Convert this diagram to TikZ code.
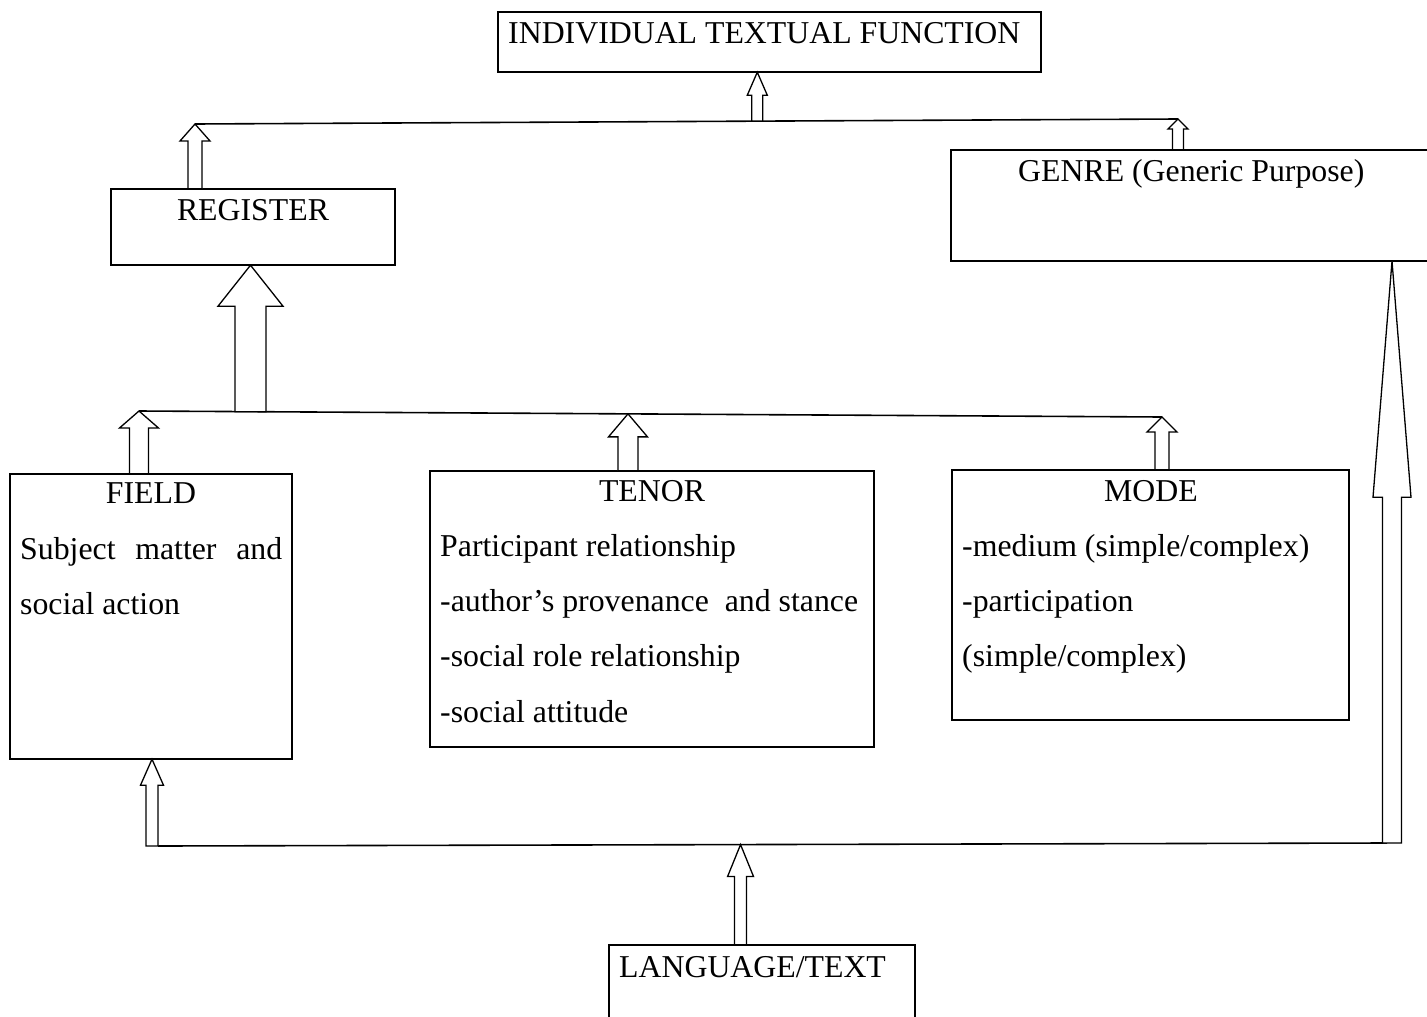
\documentclass[tikz,border=0pt]{standalone}
\usepackage{fontspec}
\setmainfont{Liberation Serif}
\usetikzlibrary{calc}
\tikzset{
  box/.style={draw, line width=1.6pt, rectangle, inner sep=0pt},
  txt/.style={inner sep=0pt, font=\fontsize{31.8}{38}\selectfont},
  blk/.style={draw, line width=1.3pt, fill=white, line join=miter},
  conn/.style={draw, line width=1.6pt}
}
% block arrow pointing up: #1 base point (its y used), #2 tip, #3 half shaft, #4 half head, #5 head length
\newcommand\blockup[5]{%
  \path[blk] let \p1=(#1), \p2=(#2) in
   (\x2-#3,\y1) -- (\x2-#3,\y2-#5) -- (\x2-#4,\y2-#5) -- (\p2) --
   (\x2+#4,\y2-#5) -- (\x2+#3,\y2-#5) -- (\x2+#3,\y1) -- cycle;}
\begin{document}
\begin{tikzpicture}[x=1pt,y=-1pt]
\useasboundingbox (0,0) rectangle (1427,1017);
% boxes
\path[box] (498,12) rectangle (1041,72);
\node[inner sep=0pt, minimum width=543pt, minimum height=60pt] (itf) at (769.5,42) {};
\path[box] (111,189) rectangle (395,265);
\node[inner sep=0pt, minimum width=284pt, minimum height=76pt] (reg) at (253,227) {};
\path[box] (951,150) rectangle (1445,261);
\node[inner sep=0pt, minimum width=494pt, minimum height=111pt] (genre) at (1198,205.5) {};
\path[box] (10,474) rectangle (292,759);
\node[inner sep=0pt, minimum width=282pt, minimum height=285pt] (field) at (151,616.5) {};
\path[box] (430,471) rectangle (874,747);
\node[inner sep=0pt, minimum width=444pt, minimum height=276pt] (tenor) at (652,609) {};
\path[box] (952,470) rectangle (1349,720);
\node[inner sep=0pt, minimum width=397pt, minimum height=250pt] (mode) at (1150.5,595) {};
\path[box] (609,945) rectangle (915,1040);
\node[inner sep=0pt, minimum width=306pt, minimum height=95pt] (lang) at (762,992.5) {};

% texts
\node[txt, anchor=base west] (titf) at (508,43) {INDIVIDUAL TEXTUAL FUNCTION};
\node[txt, anchor=base] (treg) at (253,220) {REGISTER};
\node[txt, anchor=base west] (tgen) at (1018,181) {GENRE (Generic Purpose)};
\node[txt, anchor=base] (tfield) at (151,503) {FIELD};
\node[txt, anchor=base west] (tf1) at (20,559) {\makebox[262pt][s]{Subject\hfill matter\hfill and}};
\node[txt, anchor=base west] (tf2) at (20,614) {social action};
\node[txt, anchor=base] (ttenor) at (652,501) {TENOR};
\node[txt, anchor=base west] (tt1) at (440,556) {Participant relationship};
\node[txt, anchor=base west] (tt2) at (440,611) {-author’s provenance\ \ and stance};
\node[txt, anchor=base west] (tt3) at (440,666) {-social role relationship};
\node[txt, anchor=base west] (tt4) at (440,722) {-social attitude};
\node[txt, anchor=base] (tmode) at (1151,501) {MODE};
\node[txt, anchor=base west] (tm1) at (962,556) {-medium (simple/complex)};
\node[txt, anchor=base west] (tm2) at (962,611) {-participation};
\node[txt, anchor=base west] (tm3) at (962,666) {(simple/complex)};
\node[txt, anchor=base west] (tlang) at (619,977) {LANGUAGE/TEXT};

% connector lines
\coordinate (tl1) at (195,124);
\coordinate (tl2) at (1178,119);
\coordinate (ml1) at (139,411);
\coordinate (ml2) at (1162,417);
\coordinate (bl) at (152,846);
\coordinate (blr) at (158,846);
\coordinate (br) at (1387,843);
\coordinate (rt) at (1392,843);
\path[conn] (tl1) -- (tl2);
\path[conn] (ml1) -- (ml2);
\path[conn] (blr) -- (br);

% block arrows
\coordinate (itfbase) at ($(tl1)!0.572!(tl2)$);
\blockup{itfbase}{itfbase |- itf.south}{5.5pt}{10pt}{23pt}
\blockup{reg.north}{tl1}{7pt}{15pt}{17pt}
\blockup{genre.north}{tl2}{5.5pt}{10pt}{10pt}
\coordinate (regbase) at ($(ml1)!0.109!(ml2)$);
\blockup{regbase}{regbase |- reg.south}{15.5pt}{32.5pt}{41pt}
\blockup{field.north}{ml1}{9.5pt}{19.5pt}{17pt}
\coordinate (tentip) at ($(ml1)!0.478!(ml2)$);
\blockup{tenor.north}{tentip}{10pt}{19.5pt}{23pt}
\blockup{mode.north}{ml2}{7pt}{15pt}{15pt}
\blockup{bl}{bl |- field.south}{6pt}{11.5pt}{26pt}
\blockup{rt}{rt |- genre.south}{9.5pt}{19pt}{236pt}
\coordinate (langtip) at ($(blr)!0.474!(br)$);
\blockup{lang.north}{langtip}{6pt}{13pt}{32pt}
\end{tikzpicture}
\end{document}
